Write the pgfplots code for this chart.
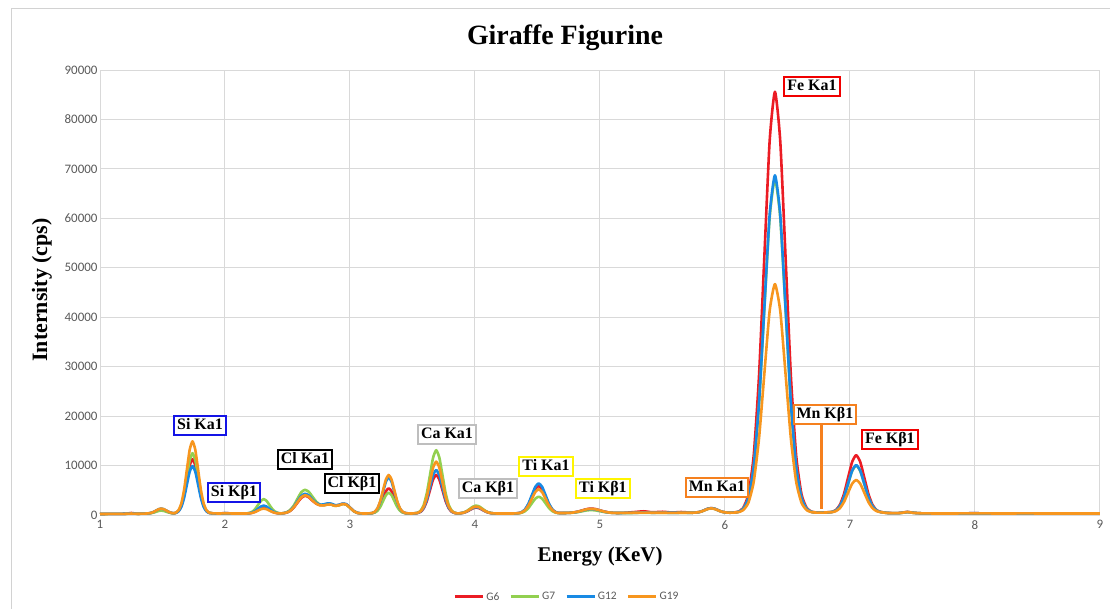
\documentclass[border=0pt]{standalone}
\usepackage{fontspec}
\setmainfont{Liberation Serif}
\newfontfamily\carlito{Carlito}
\usepackage{pgfplots}
\pgfplotsset{compat=1.18}
\usepackage{pgfplotstable}
\definecolor{cG6}{RGB}{235,28,36}
\definecolor{cG7}{RGB}{146,208,80}
\definecolor{cG12}{RGB}{24,138,228}
\definecolor{cG19}{RGB}{247,150,30}
\definecolor{gridgray}{RGB}{217,217,217}
\definecolor{tickgray}{RGB}{89,89,89}
\definecolor{bordergray}{RGB}{210,210,210}
\definecolor{bxblue}{RGB}{20,20,230}
\definecolor{bxgray}{RGB}{190,190,190}
\definecolor{bxyellow}{RGB}{255,245,0}
\definecolor{bxorange}{RGB}{245,128,30}
\definecolor{bxred}{RGB}{240,0,0}

\pgfplotstableread{
x G6 G7 G12 G19
1.00 200 200 200 200
1.10 230 220 230 220
1.20 250 240 250 240
1.25 400 300 350 300
1.30 260 250 260 250
1.37 300 300 300 300
1.39 340 326 344 344
1.41 422 381 435 435
1.43 592 495 625 625
1.45 846 664 907 907
1.47 1094 830 1183 1183
1.49 1200 900 1300 1300
1.51 1094 830 1183 1183
1.53 846 664 907 907
1.55 592 495 625 625
1.57 422 381 435 435
1.59 340 326 344 344
1.605 422 435 407 462
1.6275 783 836 721 941
1.65 1788 1951 1599 2275
1.6725 3872 4261 3417 5041
1.695 6972 7699 6122 9155
1.7175 10008 11067 8772 13185
1.74 11300 12500 9900 14900
1.7625 10008 11067 8772 13185
1.785 6972 7699 6122 9155
1.8075 3872 4261 3417 5041
1.83 1788 1951 1599 2275
1.8525 783 836 721 941
1.875 422 435 407 462
1.90 340 340 330 350
1.95 300 300 300 300
2.00 380 350 360 340
2.05 320 310 320 310
2.10 300 300 300 300
2.175 313 332 318 311
2.1975 353 427 370 344
2.22 462 692 516 435
2.2425 690 1242 820 625
2.265 1028 2059 1270 907
2.2875 1359 2859 1712 1183
2.31 1500 3200 1900 1300
2.3325 1359 2859 1712 1183
2.355 1028 2059 1270 907
2.3775 690 1242 820 625
2.40 462 692 516 435
2.4225 353 427 370 344
2.445 313 332 318 311
2.46 340 350 345 340
2.49 460 520 480 470
2.52 800 1000 870 820
2.55 1500 1900 1650 1550
2.58 2500 3300 2800 2600
2.61 3450 4600 3850 3600
2.64 3900 5100 4300 4000
2.67 3600 4700 3950 3700
2.70 2900 3700 3150 2950
2.73 2300 2700 2450 2300
2.76 2000 2100 2100 1950
2.79 2000 2000 2150 1950
2.82 2150 2100 2350 2100
2.85 2150 2100 2300 2100
2.88 1900 1850 2000 1850
2.91 2000 1950 2050 1950
2.94 2250 2200 2300 2200
2.97 2150 2100 2200 2100
3.00 1500 1450 1550 1480
3.03 800 780 820 790
3.06 420 420 430 420
3.09 320 320 320 320
3.13 300 300 300 300
3.175 357 347 381 387
3.1975 524 484 620 642
3.22 990 868 1288 1355
3.2425 1956 1664 2670 2833
3.265 3393 2847 4727 5031
3.2875 4801 4007 6742 7184
3.31 5400 4500 7600 8100
3.3325 4801 4007 6742 7184
3.355 3393 2847 4727 5031
3.3775 1956 1664 2670 2833
3.40 990 868 1288 1355
3.4225 524 484 620 642
3.445 357 347 381 387
3.49 300 300 300 300
3.54 387 442 398 417
3.565 642 862 686 761
3.59 1355 2032 1491 1721
3.615 2833 4456 3157 3709
3.64 5031 8063 5637 6668
3.665 7184 11596 8066 9566
3.69 8100 13100 9100 10800
3.715 7184 11596 8066 9566
3.74 5031 8063 5637 6668
3.765 2833 4456 3157 3709
3.79 1355 2032 1491 1721
3.815 642 862 686 761
3.84 387 442 398 417
3.86 313 318 314 316
3.885 353 370 357 361
3.91 462 516 476 489
3.935 690 820 722 755
3.96 1028 1270 1088 1149
3.985 1359 1712 1447 1536
4.01 1500 1900 1600 1700
4.035 1359 1712 1447 1536
4.06 1028 1270 1088 1149
4.085 690 820 722 755
4.11 462 516 476 489
4.135 353 370 357 361
4.16 313 318 314 316
4.22 300 300 300 300
4.30 310 305 310 305
4.345 362 338 368 354
4.3725 546 449 568 515
4.40 1058 760 1125 963
4.4275 2118 1404 2281 1891
4.455 3696 2362 4000 3272
4.4825 5242 3301 5683 4624
4.51 5900 3700 6400 5200
4.5375 5242 3301 5683 4624
4.565 3696 2362 4000 3272
4.5925 2118 1404 2281 1891
4.62 1058 760 1125 963
4.6475 546 449 568 515
4.675 400 380 405 395
4.72 410 407 409 409
4.755 440 426 435 437
4.79 522 481 508 515
4.825 692 595 660 676
4.86 946 764 885 916
4.895 1194 930 1106 1150
4.93 1300 1000 1200 1250
4.965 1194 930 1106 1150
5.00 946 764 885 916
5.035 692 595 660 676
5.07 522 481 508 515
5.105 440 426 435 437
5.14 410 407 409 409
5.20 450 400 420 430
5.28 600 420 450 450
5.35 750 450 500 480
5.42 550 430 460 460
5.50 650 420 480 450
5.58 500 420 450 440
5.65 600 430 470 450
5.74 461 460 461 460
5.765 492 490 492 490
5.79 579 572 579 572
5.815 758 742 758 742
5.84 1026 996 1026 996
5.865 1288 1244 1288 1244
5.89 1400 1350 1400 1350
5.915 1288 1244 1288 1244
5.94 1026 996 1026 996
5.965 758 742 758 742
5.99 579 572 579 572
6.015 492 490 492 490
6.04 461 460 461 460
6.1025 637 599 600 552
6.145 1395 1200 1208 963
6.1875 4188 3415 3446 2480
6.23 11971 9590 9684 6708
6.2725 28098 22383 22611 15467
6.315 52093 41419 41844 28500
6.3575 75595 60063 60681 41266
6.40 85600 68000 68700 46700
6.4425 75595 60063 60681 41266
6.485 52093 41419 41844 28500
6.5275 28098 22383 22611 15467
6.57 11971 9590 9684 6708
6.6125 4188 3415 3446 2480
6.655 1395 1200 1208 963
6.6975 637 599 600 552
6.75 500 490 490 480
6.80 520 500 510 500
6.855 629 605 607 573
6.8875 1009 917 921 790
6.92 2069 1785 1799 1393
6.9525 4267 3585 3617 2643
6.985 7535 6262 6322 4503
7.0175 10737 8884 8972 6325
7.05 12100 10000 10100 7100
7.0825 10737 8884 8972 6325
7.115 7535 6262 6322 4503
7.1475 4267 3585 3617 2643
7.18 2069 1785 1799 1393
7.2125 1009 917 921 790
7.245 629 605 607 573
7.30 420 410 410 400
7.38 380 370 370 370
7.42 480 450 460 460
7.46 620 580 600 600
7.50 480 460 470 460
7.56 350 350 350 350
7.70 300 300 300 300
7.85 320 310 320 310
8.00 350 340 350 340
8.20 300 300 300 300
8.40 330 320 320 320
8.60 310 300 310 300
8.80 320 310 320 310
9.00 300 300 300 300
}\spectra

\tikzset{lbl/.style={draw=#1, line width=2bp, fill=white, inner xsep=3bp, inner ysep=2bp,
  font=\bfseries\fontsize{16}{18}\selectfont, text height=11.5bp, text depth=3.5bp}}
\pgfplotsset{spec/.style={line width=2.6bp, no markers, line join=round, smooth, tension=0.35}}

\begin{document}
\begin{tikzpicture}
\useasboundingbox (0,0) rectangle (1110bp,609bp);
\draw[bordergray, line width=1bp] (11bp,0) -- (11bp,600bp) -- (1110bp,600bp);
\begin{axis}[
  at={(100bp,94bp)}, anchor=south west,
  width=1000bp, height=445bp, scale only axis,
  xmin=1, xmax=9, ymin=0, ymax=90000,
  xtick={1,2,...,9}, ytick={0,10000,...,90000},
  grid=major, grid style={gridgray, line width=1bp},
  axis line style={draw=none},
  major tick length=0pt,
  tick label style={font=\carlito\fontsize{13}{15}\selectfont, text=tickgray},
  /pgf/number format/assume math mode=true,
  /pgf/number format/1000 sep={},
  scaled y ticks=false,
  yticklabel style={xshift=1bp},
  xticklabel style={yshift=-2bp},
  clip=false,
  legend columns=4,
  legend image code/.code={\draw[line width=2.8bp] (0bp,0bp) -- (28bp,0bp);},
  legend style={at={(0.467,-0.184)}, anchor=center, draw=none, fill=none,
    font=\carlito\fontsize{11.5}{13}\selectfont, text=tickgray,
    /tikz/every even column/.append style={column sep=8bp}},
]
\addplot[cG6, spec] table[x=x,y=G6]{\spectra};
\addlegendentry{G6}
\addplot[cG7, spec] table[x=x,y=G7]{\spectra};
\addlegendentry{G7}
\addplot[cG12, spec] table[x=x,y=G12]{\spectra};
\addlegendentry{G12}
\addplot[cG19, spec] table[x=x,y=G19]{\spectra};
\addlegendentry{G19}

\draw[bxorange, line width=2.8bp] (axis cs:6.77,1300) -- (axis cs:6.77,18500);

\node[lbl=bxblue] at (axis cs:1.80,18200) {Si Ka1};
\node[lbl=bxblue] at (axis cs:2.072,4450) {Si Kβ1};
\node[lbl=black] at (axis cs:2.64,11320) {Cl Ka1};
\node[lbl=black] at (axis cs:3.016,6270) {Cl Kβ1};
\node[lbl=bxgray] at (axis cs:3.776,16180) {Ca Ka1};
\node[lbl=bxgray] at (axis cs:4.104,5460) {Ca Kβ1};
\node[lbl=bxyellow] at (axis cs:4.568,9910) {Ti Ka1};
\node[lbl=bxyellow] at (axis cs:5.024,5260) {Ti Kβ1};
\node[lbl=bxorange] at (axis cs:5.936,5660) {Mn Ka1};
\node[lbl=bxred] at (axis cs:6.696,86740) {Fe Ka1};
\node[lbl=bxorange] at (axis cs:6.80,20420) {Mn Kβ1};
\node[lbl=bxred] at (axis cs:7.32,15370) {Fe Kβ1};
\end{axis}
\node[font=\bfseries\fontsize{28}{30}\selectfont] at (565bp,571bp) {Giraffe Figurine};
\node[font=\bfseries\fontsize{21}{24}\selectfont] at (600bp,52bp) {Energy (KeV)};
\node[font=\bfseries\fontsize{22}{24}\selectfont, rotate=90] at (42bp,319bp) {Internsity (cps)};
\end{tikzpicture}
\end{document}
